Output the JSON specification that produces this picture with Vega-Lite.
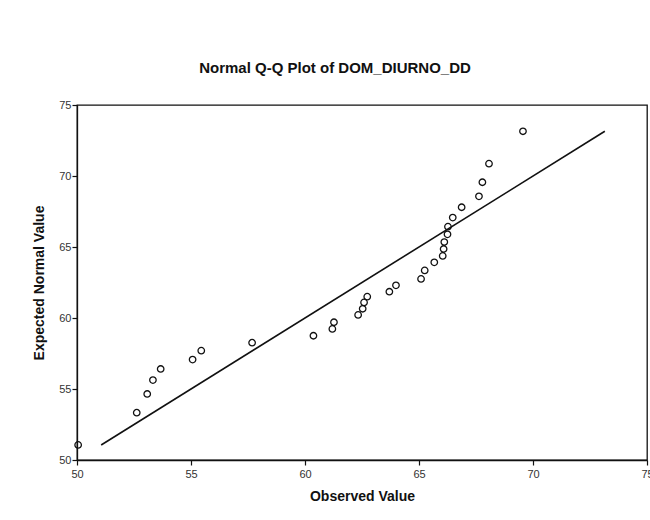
{
  "$schema": "https://vega.github.io/schema/vega-lite/v6.json",
  "width": 570,
  "height": 355,
  "autosize": {"type": "none"},
  "padding": {"left": 77, "top": 105, "right": 3, "bottom": 60},
  "background": "white",
  "title": {
    "text": "Normal Q-Q Plot of DOM_DIURNO_DD",
    "font": "Liberation Sans",
    "fontSize": 15,
    "fontWeight": "bold",
    "color": "#111",
    "anchor": "middle",
    "dx": -27,
    "offset": 23
  },
  "datasets": {
    "observed": [
      {"observed": 50.05, "expected": 51.06},
      {"observed": 52.62, "expected": 53.33},
      {"observed": 53.08, "expected": 54.65},
      {"observed": 53.33, "expected": 55.63},
      {"observed": 53.67, "expected": 56.41},
      {"observed": 55.07, "expected": 57.07},
      {"observed": 55.45, "expected": 57.70},
      {"observed": 57.68, "expected": 58.26},
      {"observed": 60.37, "expected": 58.75},
      {"observed": 61.20, "expected": 59.23},
      {"observed": 61.27, "expected": 59.70},
      {"observed": 62.33, "expected": 60.22},
      {"observed": 62.53, "expected": 60.65},
      {"observed": 62.59, "expected": 61.10},
      {"observed": 62.73, "expected": 61.50},
      {"observed": 63.70, "expected": 61.85},
      {"observed": 63.99, "expected": 62.30},
      {"observed": 65.09, "expected": 62.75},
      {"observed": 65.25, "expected": 63.35},
      {"observed": 65.67, "expected": 63.92},
      {"observed": 66.04, "expected": 64.37},
      {"observed": 66.08, "expected": 64.86},
      {"observed": 66.11, "expected": 65.35},
      {"observed": 66.25, "expected": 65.89},
      {"observed": 66.27, "expected": 66.43},
      {"observed": 66.48, "expected": 67.07},
      {"observed": 66.87, "expected": 67.80},
      {"observed": 67.63, "expected": 68.57},
      {"observed": 67.78, "expected": 69.56},
      {"observed": 68.07, "expected": 70.87},
      {"observed": 69.56, "expected": 73.15}
    ],
    "reference": [
      {"observed": 51.06, "expected": 51.06},
      {"observed": 73.15, "expected": 73.15}
    ]
  },
  "config": {
    "view": {"stroke": "#111", "strokeWidth": 1.3},
    "axis": {
      "grid": false,
      "labelFlush": false,
      "labelOverlap": false,
      "domainColor": "#111",
      "domainWidth": 1.3,
      "tickColor": "#111",
      "tickSize": 5,
      "tickWidth": 1.2,
      "labelFont": "Liberation Sans",
      "labelFontSize": 11,
      "labelColor": "#333",
      "titleFont": "Liberation Sans",
      "titleFontSize": 14,
      "titleFontWeight": "bold",
      "titleColor": "#111"
    }
  },
  "layer": [
    {
      "data": {"name": "reference"},
      "mark": {"type": "line", "color": "#111", "strokeWidth": 1.6},
      "encoding": {
        "x": {"field": "observed", "type": "quantitative"},
        "y": {"field": "expected", "type": "quantitative"}
      }
    },
    {
      "data": {"name": "observed"},
      "mark": {"type": "point", "shape": "circle", "filled": false, "color": "#111", "size": 42, "strokeWidth": 1.3, "opacity": 1},
      "encoding": {
        "x": {
          "field": "observed",
          "type": "quantitative",
          "title": "Observed Value",
          "scale": {"domain": [50, 75], "nice": false, "zero": false},
          "axis": {"values": [50, 55, 60, 65, 70, 75], "labelPadding": 3, "titlePadding": 10}
        },
        "y": {
          "field": "expected",
          "type": "quantitative",
          "title": "Expected Normal Value",
          "scale": {"domain": [50, 75], "nice": false, "zero": false},
          "axis": {"values": [50, 55, 60, 65, 70, 75], "labelPadding": 1, "titlePadding": 12}
        }
      }
    }
  ]
}
